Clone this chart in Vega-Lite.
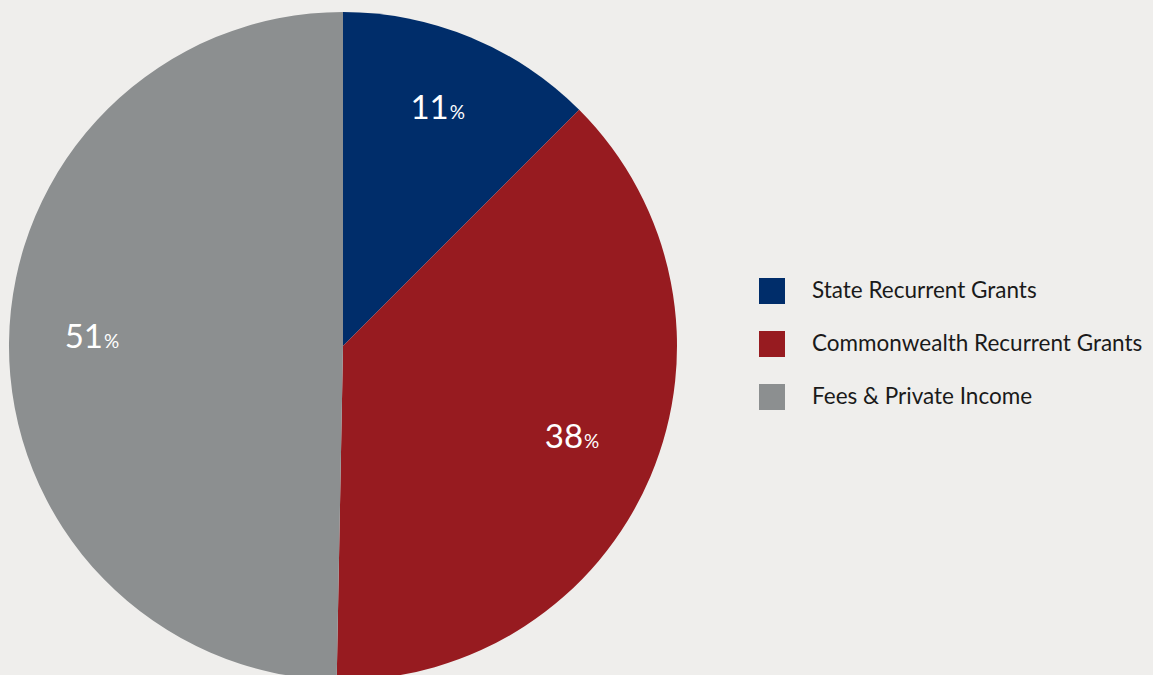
{
  "$schema": "https://vega.github.io/schema/vega-lite/v6.json",
  "width": 1153,
  "height": 675,
  "autosize": "none",
  "padding": 0,
  "background": "#EFEEEC",
  "config": {"view": {"stroke": null}, "font": "Lato"},
  "data": {"values": [
    {"source": "State Recurrent Grants", "share": 12.5, "pct": "11", "rank": 1},
    {"source": "Commonwealth Recurrent Grants", "share": 37.8, "pct": "38", "rank": 2},
    {"source": "Fees & Private Income", "share": 49.7, "pct": "51", "rank": 3}
  ]},
  "encoding": {
    "theta": {"field": "share", "type": "quantitative", "stack": true},
    "order": {"field": "rank", "type": "quantitative"}
  },
  "layer": [
    {
      "mark": {"type": "arc", "outerRadius": 334, "xOffset": -233.5, "yOffset": 8.5},
      "encoding": {
        "color": {
          "field": "source", "type": "nominal",
          "scale": {"domain": ["State Recurrent Grants", "Commonwealth Recurrent Grants", "Fees & Private Income"],
                    "range": ["#002D6A", "#971B20", "#8C8F90"]},
          "legend": {
            "title": null, "orient": "none", "legendX": 759, "legendY": 278,
            "symbolType": "square", "symbolSize": 676, "symbolStrokeWidth": 0,
            "symbolOpacity": 1, "labelFontSize": 22.5, "labelFont": "Lato",
            "labelColor": "#1a1a1a", "labelOffset": 27, "rowPadding": 27, "padding": 0,
            "labelLimit": 400
          }
        }
      }
    },
    {
      "mark": {"type": "text", "radius": 250, "xOffset": -233.5, "yOffset": 8.5, "align": "right", "baseline": "alphabetic", "dx": 10, "dy": 4, "fontSize": 33, "color": "white", "font": "Lato"},
      "encoding": {"text": {"field": "pct"}}
    },
    {
      "mark": {"type": "text", "radius": 250, "xOffset": -233.5, "yOffset": 8.5, "align": "left", "baseline": "alphabetic", "dx": 11, "dy": 4, "fontSize": 19, "color": "white", "font": "Lato", "text": "%"},
      "encoding": {}
    }
  ]
}
